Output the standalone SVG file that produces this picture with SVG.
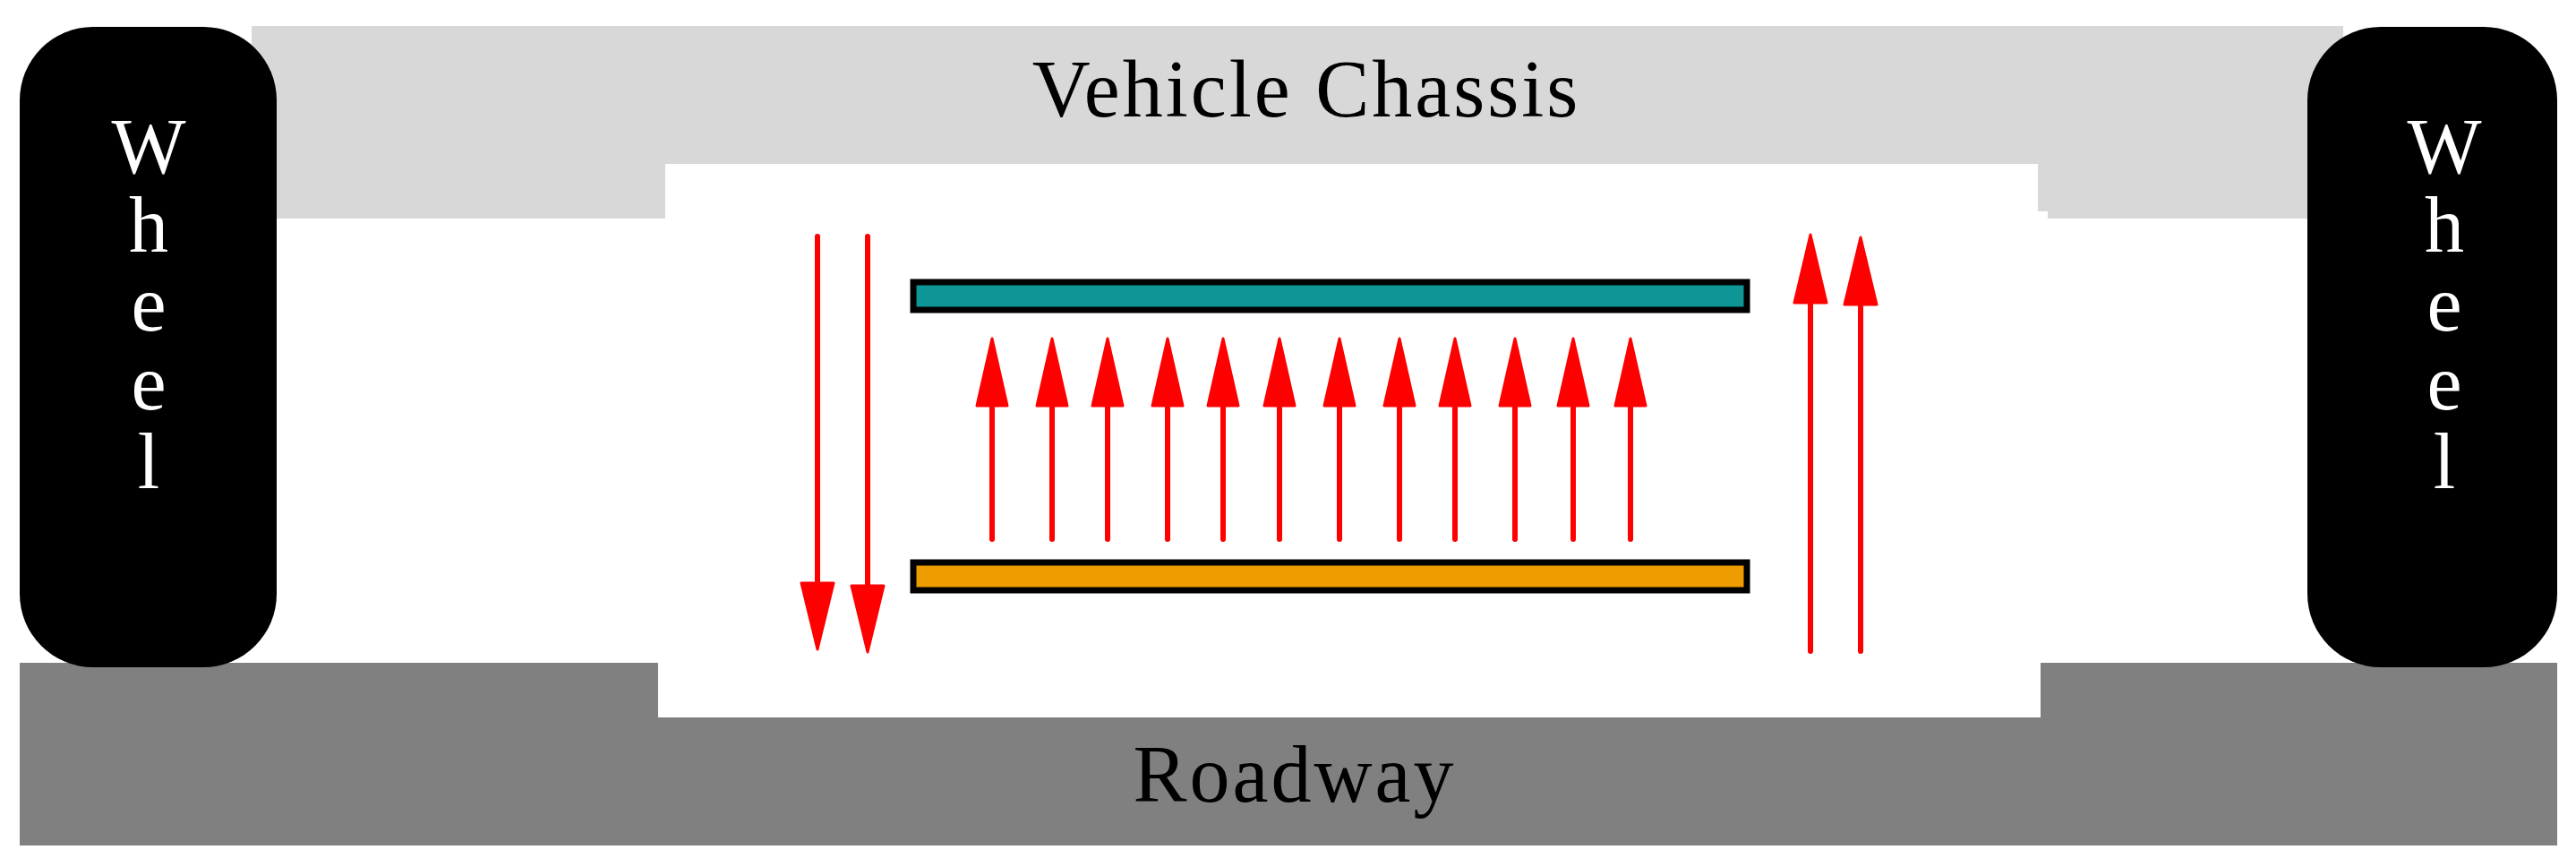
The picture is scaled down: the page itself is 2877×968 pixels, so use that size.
<svg xmlns="http://www.w3.org/2000/svg" width="2877" height="968" viewBox="0 0 2877 968">
<style>
.w{font-family:"Liberation Serif",serif;font-size:88px;fill:#fff;text-anchor:middle}
.t{font-family:"Liberation Serif",serif;font-size:90px;letter-spacing:3px;fill:#000;text-anchor:middle}
.a{stroke:#f00;stroke-width:6;stroke-linecap:round;fill:none}
.h{fill:#f00;stroke:#f00;stroke-width:3;stroke-linejoin:round}
</style>
<rect width="2877" height="968" fill="#fff"/>
<g id="chassis">
<path d="M281 29H2617V244H2287V236H2276V183H743V244H281Z" fill="#d8d8d8"/>
<text class="t" x="1459" y="130">Vehicle Chassis</text>
</g>
<g id="roadway">
<path d="M22 740H735V801H2279V740H2856V944H22Z" fill="#808080"/>
<text class="t" x="1446" y="895">Roadway</text>
</g>
<g id="wheel-left">
<rect x="22" y="30" width="287" height="715" rx="82" fill="#000"/>
<text class="w" x="166" y="193">W</text><text class="w" x="166" y="281">h</text><text class="w" x="166" y="369">e</text><text class="w" x="166" y="457">e</text><text class="w" x="166" y="545">l</text>
</g>
<g id="wheel-right">
<rect x="2577" y="30" width="279" height="715" rx="82" fill="#000"/>
<text class="w" x="2730" y="193">W</text><text class="w" x="2730" y="281">h</text><text class="w" x="2730" y="369">e</text><text class="w" x="2730" y="457">e</text><text class="w" x="2730" y="545">l</text>
</g>
<g id="plate-top"><rect x="1020" y="315" width="931" height="31" fill="#0e9696" stroke="#000" stroke-width="7"/></g>
<g id="plate-bottom"><rect x="1020" y="628" width="931" height="31" fill="#ee9d00" stroke="#000" stroke-width="7"/></g>
<g id="connectors">
<line class="a" x1="913" y1="264" x2="913" y2="660"/><path class="h" d="M895 651H931L913 725Z"/>
<line class="a" x1="969" y1="264" x2="969" y2="660"/><path class="h" d="M951 654H987L969 728Z"/>
<line class="a" x1="2022" y1="330" x2="2022" y2="727"/><path class="h" d="M2004 338H2040L2022 262Z"/>
<line class="a" x1="2078" y1="330" x2="2078" y2="727"/><path class="h" d="M2060 340H2096L2078 265Z"/>
<g id="mid">
<line class="a" x1="1108" y1="445" x2="1108" y2="602"/><path class="h" d="M1091 453H1125L1108 378Z"/>
<line class="a" x1="1175" y1="445" x2="1175" y2="602"/><path class="h" d="M1158 453H1192L1175 378Z"/>
<line class="a" x1="1237" y1="445" x2="1237" y2="602"/><path class="h" d="M1220 453H1254L1237 378Z"/>
<line class="a" x1="1304" y1="445" x2="1304" y2="602"/><path class="h" d="M1287 453H1321L1304 378Z"/>
<line class="a" x1="1366" y1="445" x2="1366" y2="602"/><path class="h" d="M1349 453H1383L1366 378Z"/>
<line class="a" x1="1429" y1="445" x2="1429" y2="602"/><path class="h" d="M1412 453H1446L1429 378Z"/>
<line class="a" x1="1496" y1="445" x2="1496" y2="602"/><path class="h" d="M1479 453H1513L1496 378Z"/>
<line class="a" x1="1563" y1="445" x2="1563" y2="602"/><path class="h" d="M1546 453H1580L1563 378Z"/>
<line class="a" x1="1625" y1="445" x2="1625" y2="602"/><path class="h" d="M1608 453H1642L1625 378Z"/>
<line class="a" x1="1692" y1="445" x2="1692" y2="602"/><path class="h" d="M1675 453H1709L1692 378Z"/>
<line class="a" x1="1757" y1="445" x2="1757" y2="602"/><path class="h" d="M1740 453H1774L1757 378Z"/>
<line class="a" x1="1821" y1="445" x2="1821" y2="602"/><path class="h" d="M1804 453H1838L1821 378Z"/>
</g>
</g>
</svg>
